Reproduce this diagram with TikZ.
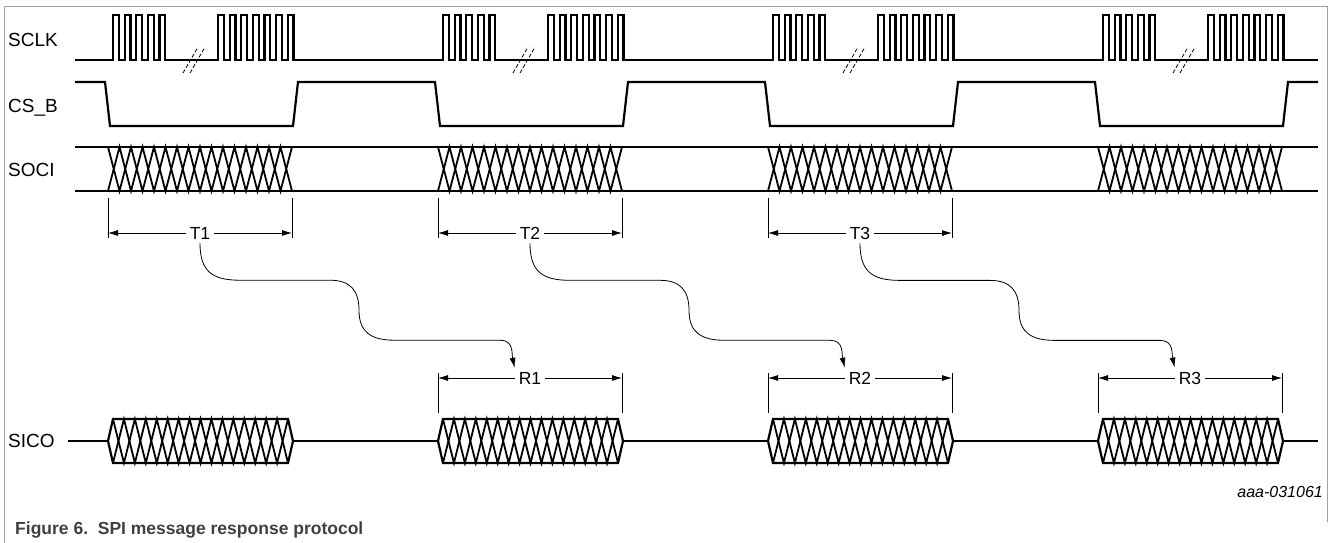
\documentclass[tikz,border=0pt]{standalone}
\usepackage{fontspec}
\setmainfont{Liberation Sans}
\usetikzlibrary{arrows.meta}
\definecolor{framegray}{RGB}{160,160,160}
\definecolor{capgray}{RGB}{64,64,64}
\tikzset{
  sig/.style={line width=2.2pt},
  zig/.style={line width=1.8pt},
  tick/.style={line width=0.8pt},
  dimarr/.style={line width=0.8pt,-{Latex[length=10pt,width=6pt]}},
  brk/.style={line width=0.8pt,dash pattern=on 4pt off 2pt},
  lbl/.style={font=\fontsize{19}{21}\selectfont,anchor=west,inner sep=0pt},
  dimlbl/.style={font=\fontsize{17.5}{19}\selectfont,inner sep=4pt}
}
\begin{document}
\begin{tikzpicture}[x=1pt,y=-1pt]
\useasboundingbox (0,0) rectangle (1328,543);
\draw[framegray,line width=1pt] (4,543) -- (4,7) -- (1327,7) -- (1327,522);

% signal names
\node[lbl] (sclk) at (8,40) {SCLK};
\node[lbl] (csb) at (8,108) {CS\_B};
\node[lbl] (soci) at (8,170) {SOCI};
\node[lbl] (sico) at (8,441) {SICO};

% SCLK
\draw[sig] (75,60)
  \foreach \k in {0,...,3} {
    -- (113+\k*330,60)
    \foreach \i in {1,...,5} { -- ++(0,-45) -- ++(5.8,0) -- ++(0,45) -- ++(5.8,0) }
    -- (218+\k*330,60)
    \foreach \i in {1,...,7} { -- ++(0,-45) -- ++(5.8,0) -- ++(0,45) -- ++(5.8,0) }
  } -- (1318,60);
\foreach \k in {0,...,3} {
  \draw[brk] (183+\k*330,73) -- ++(15,-26);
  \draw[brk] (190+\k*330,73) -- ++(15,-26);
}

% CS_B
\draw[sig] (75,82)
  \foreach \k in {0,...,3} {
    -- (105+\k*330,82) -- (110+\k*330,126) -- (293+\k*330,126) -- (298+\k*330,82)
  } -- (1318,82);

% SOCI
\draw[sig] (75,147) -- (1318,147);
\draw[sig] (75,191) -- (1318,191);
\foreach \k in {0,...,3} {
  \draw[zig] (108+\k*330,147) \foreach \i in {1,...,8} { -- ++(11.5,44) -- ++(11.5,-44) };
  \draw[zig] (108+\k*330,191) \foreach \i in {1,...,8} { -- ++(11.5,-44) -- ++(11.5,44) };
}

% SICO
\draw[sig] (68,441) -- (1318,441);
\foreach \k in {0,...,3} {
  \draw[sig,fill=white] (108+\k*330,441) -- ++(5,-22) -- ++(175,0) -- ++(5,22)
    -- ++(-5,22) -- ++(-175,0) -- cycle;
  \draw[zig] (113+\k*330,419) \foreach \i in {1,...,8} { -- ++(10.94,44) -- ++(10.94,-44) };
  \draw[zig] (113+\k*330,463) \foreach \i in {1,...,8} { -- ++(10.94,-44) -- ++(10.94,44) };
}

% T and R spans
\foreach \k [evaluate=\k as \xa using 108+(\k-1)*330,
             evaluate=\k as \xr using 108+\k*330] in {1,2,3} {
  \draw[tick] (\xa,198) -- (\xa,238);
  \draw[tick] (\xa+184,198) -- (\xa+184,238);
  \coordinate (ta\k) at (\xa,233);
  \coordinate (tb\k) at (\xa+184,233);
  \node[dimlbl] (t\k) at (\xa+92,233) {T\k};
  \draw[dimarr] (t\k) -- (ta\k);
  \draw[dimarr] (t\k) -- (tb\k);

  \draw[tick] (\xr,373) -- (\xr,413);
  \draw[tick] (\xr+184,373) -- (\xr+184,413);
  \coordinate (ra\k) at (\xr,378);
  \coordinate (rb\k) at (\xr+184,378);
  \node[dimlbl] (r\k) at (\xr+92,378) {R\k};
  \draw[dimarr] (r\k) -- (ra\k);
  \draw[dimarr] (r\k) -- (rb\k);

  % response link
  \draw[dimarr] (t\k.south) .. controls +(0,28) and +(-28,0) .. ++(40,37) -- ++(90,0)
    .. controls +(20,0) and +(0,-20) .. ++(29,30)
    .. controls +(0,22) and +(-24,0) .. ++(36,30) -- ++(105,0)
    .. controls +(14,0) and +(-3,-14) .. (r\k.north west);
}

\node[font=\itshape\fontsize{16}{18}\selectfont,anchor=east,inner sep=0pt] (code) at (1323,492) {aaa-031061};
\node[font=\bfseries\fontsize{17.5}{20}\selectfont,text=capgray,anchor=west,inner sep=0pt] (cap) at (15,530) {Figure 6.\ \ SPI message response protocol};
\end{tikzpicture}
\end{document}
